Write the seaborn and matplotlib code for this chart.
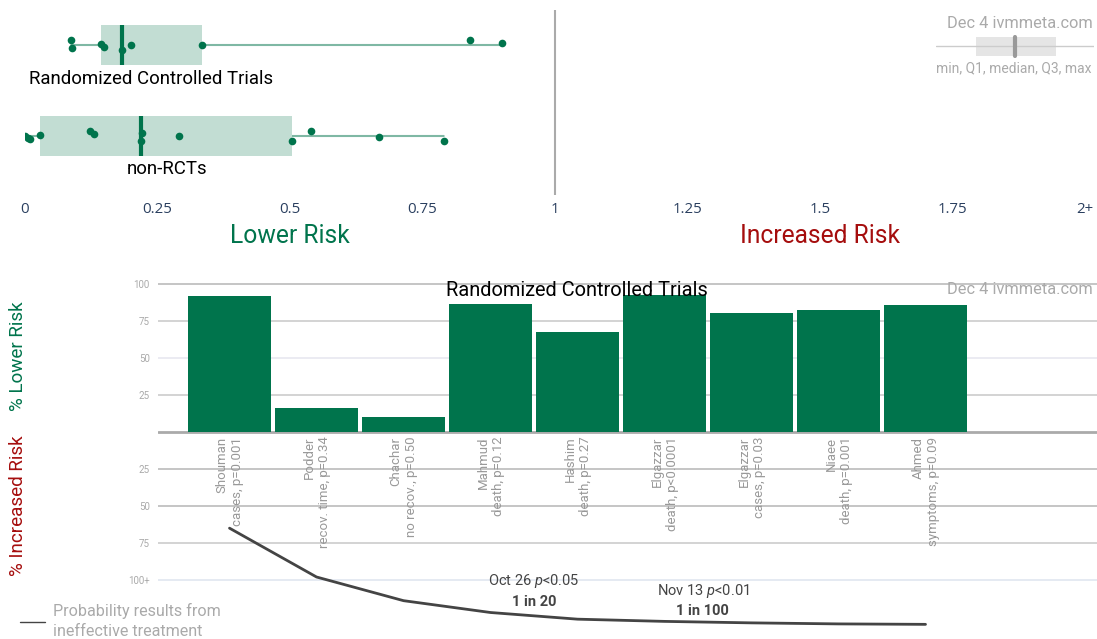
import numpy as np
import pandas as pd
import matplotlib
matplotlib.use("Agg")
import matplotlib.pyplot as plt
import seaborn as sns

# ---------------- data ----------------
groups = ["Randomized Controlled Trials", "non-RCTs"]
rct_rr = [0.086, 0.089, 0.143, 0.149, 0.183, 0.200, 0.334, 0.840, 0.900]
nonrct_rr = [0.0, 0.006, 0.009, 0.028, 0.123, 0.131, 0.219, 0.221, 0.291,
             0.504, 0.540, 0.668, 0.790]
risk_ticks = [0, 0.25, 0.5, 0.75, 1, 1.25, 1.5, 1.75, 2]
risk_tick_labels = ["0", "0.25", "0.5", "0.75", "1", "1.25", "1.5", "1.75", "2+"]

studies = ["Shouman\ncases, p=0.001", "Podder\nrecov. time, p=0.34",
           "Chachar\nno recov., p=0.50", "Mahmud\ndeath, p=0.12",
           "Hashim\ndeath, p=0.27", "Elgazzar\ndeath, p<0.0001",
           "Elgazzar\ncases, p=0.03", "Niaee\ndeath, p=0.001",
           "Ahmed\nsymptoms, p=0.09"]
pct_lower = [92, 16, 10, 86.5, 67.5, 92.6, 80.4, 82.4, 85.8]
prob_curve = [-65, -98, -114, -122, -126.5, -128, -129, -129.7, -130]
pct_ticks = [100, 75, 50, 25, 0, -25, -50, -75, -100]
pct_tick_labels = ["100", "75", "50", "25", "", "25", "50", "75", "100+"]

# ---------------- style ----------------
sns.set_style("white")
plt.rcParams["font.family"] = ["Roboto", "DejaVu Sans"]
plt.rcParams["mathtext.fontset"] = "custom"
plt.rcParams["mathtext.rm"] = "Roboto"
plt.rcParams["mathtext.it"] = "Roboto:italic"

GREEN = "#00744c"
LIGHTGREEN = "#c2ddd3"
WHISK = "#7fb8a4"
RED = "#a50d0d"
W, H = 1097, 639

fig = plt.figure(figsize=(W / 100, H / 100), dpi=100)


def rect(l, t, r, b):
    return [l / W, 1 - b / H, (r - l) / W, (b - t) / H]


def ftext(x, y, s, **kw):
    fig.text(x / W, 1 - y / H, s, **kw)


# ---------------- top panel ----------------
ax1 = fig.add_axes(rect(25, 10, 1085, 195))
df = pd.DataFrame({
    "rr": rct_rr + nonrct_rr,
    "group": [groups[0]] * len(rct_rr) + [groups[1]] * len(nonrct_rr),
})
sns.boxplot(data=df, x="rr", y="group", order=groups, ax=ax1, orient="h",
            whis=(0, 100), width=0.44, showcaps=False, showfliers=False,
            boxprops=dict(facecolor=LIGHTGREEN, edgecolor="none", linewidth=0),
            medianprops=dict(color=GREEN, linewidth=3),
            whiskerprops=dict(color=WHISK, linewidth=1.5))
for i, vals in enumerate([rct_rr, nonrct_rr]):
    ax1.plot([min(vals), max(vals)], [i, i], color=WHISK, lw=1.2, zorder=1.5)
np.random.seed(7)
sns.stripplot(data=df, x="rr", y="group", order=groups, ax=ax1, orient="h",
              color=GREEN, size=5.5, jitter=0.06, linewidth=0, zorder=3)
ax1.axvline(1, color="#aaaaaa", lw=1.5, zorder=0)
ax1.set_xlim(0, 2)
ax1.set_ylim(1.648, -0.385)
ax1.set_xticks(risk_ticks)
ax1.set_xticklabels(risk_tick_labels, fontfamily="Open Sans", fontsize=10.8,
                    color="#2a3f5f")
ax1.tick_params(axis="x", length=0, pad=5)
ax1.set_yticks([])
ax1.set_xlabel("")
ax1.set_ylabel("")
for sp in ax1.spines.values():
    sp.set_visible(False)
ax1.patch.set_alpha(0)
ax1.text(0.238, 0.374, groups[0], ha="center", va="center", fontsize=13.4,
         color="black")
ax1.text(0.268, 1.363, groups[1], ha="center", va="center", fontsize=13.4,
         color="black")

ftext(290, 236, "Lower Risk", ha="center", va="center", fontsize=17.7,
      color=GREEN)
ftext(820, 236, "Increased Risk", ha="center", va="center", fontsize=17.7,
      color=RED)

# mini legend box (top right)
ftext(1093, 23, "Dec 4 ivmmeta.com", ha="right", va="center", fontsize=11.8,
      color="#aaaaaa")
axl = fig.add_axes(rect(936, 30, 1094, 62))
axl.set_xlim(936, 1094)
axl.set_ylim(62, 30)
axl.axis("off")
axl.plot([936, 1094], [46, 46], color="#cccccc", lw=1)
axl.add_patch(plt.Rectangle((976, 37), 80, 19, color="#e5e5e5", lw=0))
axl.plot([1015, 1015], [37, 56], color="#999999", lw=3)
ftext(1014, 68, "min, Q1, median, Q3, max", ha="center", va="center",
      fontsize=10, color="#aaaaaa")

# ---------------- bottom panel ----------------
ax2 = fig.add_axes(rect(158, 280, 1097, 639))
grid_cols = {100: "#bbbbbb", 75: "#cccccc", 50: "#e8e8f0", 25: "#cccccc",
             -25: "#bbbbbb", -50: "#bbbbbb", -75: "#cccccc", -100: "#e0e6f0"}
for yv, c in grid_cols.items():
    ax2.axhline(yv, color=c, lw=1.2, zorder=0)
ax2.axhline(0, color="#aaaaaa", lw=2, zorder=0)

bdf = pd.DataFrame({"study": studies, "pct": pct_lower})
sns.barplot(data=bdf, x="study", y="pct", ax=ax2, color=GREEN, width=0.954,
            saturation=1, linewidth=0, edgecolor="none", zorder=2)
sns.lineplot(x=np.arange(len(prob_curve)), y=prob_curve, ax=ax2,
             color="#444444", lw=2, zorder=3)
for i, s in enumerate(studies):
    ax2.text(i, -3.2, s, rotation=90, ha="center", va="top",
             multialignment="right", fontsize=9.5, color="#999999",
             zorder=4)

ax2.set_xlim(-0.822, 9.971)
ax2.set_ylim(-139.9, 102.7)
ax2.set_xticks([])
ax2.set_yticks(pct_ticks)
ax2.set_yticklabels(pct_tick_labels, fontsize=7, color="#aaaaaa")
ax2.tick_params(axis="y", length=5, color="#cccccc", pad=1)
ax2.set_xlabel("")
ax2.set_ylabel("")
for sp in ax2.spines.values():
    sp.set_visible(False)
ax2.patch.set_alpha(0)

ax2.text(3.5, -100.7, "Oct 26 $p$<0.05", ha="center", va="center",
         fontsize=10.5, color="#444444")
ax2.text(3.5, -114.8, "1 in 20", ha="center", va="center", fontsize=10.5,
         color="#444444", fontweight="bold")
ax2.text(5.44, -107.4, "Nov 13 $p$<0.01", ha="center", va="center",
         fontsize=10.5, color="#444444")
ax2.text(5.44, -120.9, "1 in 100", ha="center", va="center", fontsize=10.5,
         color="#444444", fontweight="bold")

ftext(577, 291, "Randomized Controlled Trials", ha="center", va="center",
      fontsize=14.4, color="black")
ftext(1093, 289, "Dec 4 ivmmeta.com", ha="right", va="center", fontsize=11.8,
      color="#aaaaaa")
ftext(18, 356, "% Lower Risk", rotation=90, ha="center", va="center",
      fontsize=13.6, color=GREEN)
ftext(18, 506, "% Increased Risk", rotation=90, ha="center", va="center",
      fontsize=13.6, color=RED)

# bottom-left legend
fig.add_artist(plt.Line2D([20 / W, 45 / W], [1 - 622 / H, 1 - 622 / H],
                          color="#444444", lw=1))
ftext(53, 611, "Probability results from", ha="left", va="center",
      fontsize=11.6, color="#aaaaaa")
ftext(53, 631, "ineffective treatment", ha="left", va="center",
      fontsize=11.6, color="#aaaaaa")

fig.savefig("out.png", dpi=100)
